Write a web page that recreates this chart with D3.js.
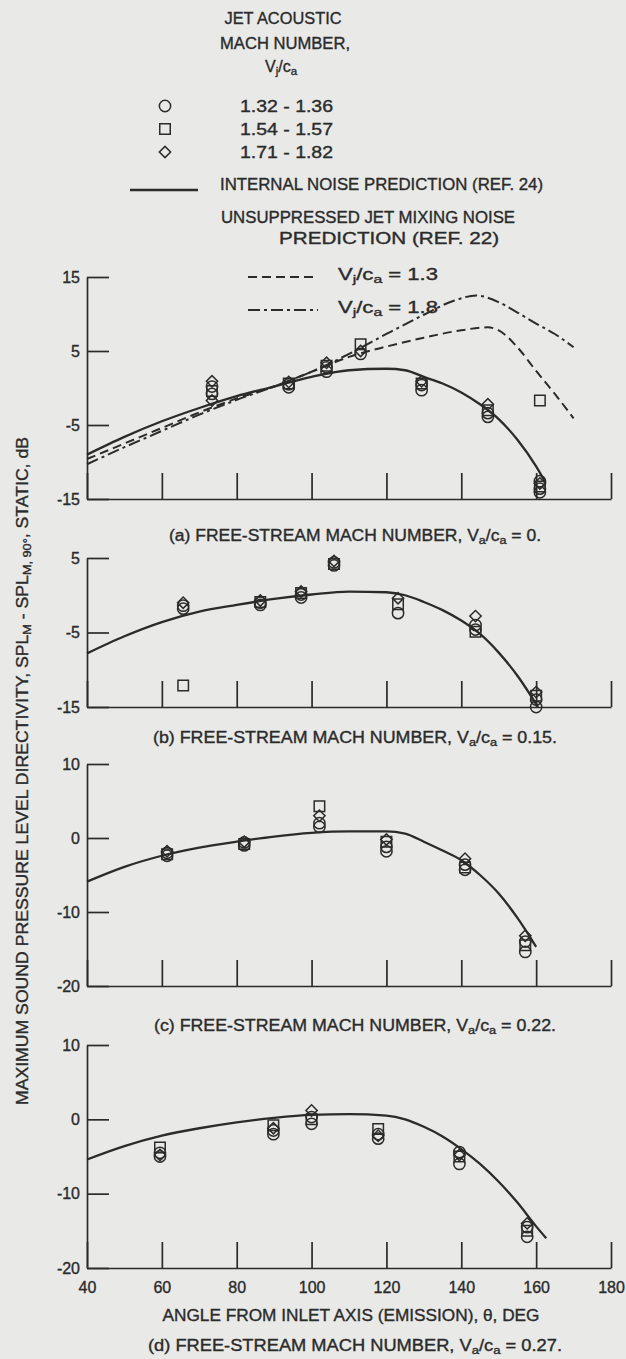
<!DOCTYPE html>
<html><head><meta charset="utf-8">
<script src="https://cdn.jsdelivr.net/npm/d3@7"></script>
<style>
html,body{margin:0;padding:0;background:#e9e9e7;}
svg{display:block;}
text{font-family:"Liberation Sans", Arial, sans-serif; fill:#2b2b2b; stroke:#2b2b2b; stroke-width:0.35px;}
</style></head><body>
<svg id="c" width="626" height="1359"></svg>
<script>
// ---------------- DATA ----------------
const xTicks = [40, 60, 80, 100, 120, 140, 160, 180];
const yTicksA = [15, 5, -5, -15];
const yTicksB = [5, -5, -15];
const yTicksC = [10, 0, -10, -20];
const yTicksD = [10, 0, -10, -20];
const legendRanges = ["1.32 - 1.36", "1.54 - 1.57", "1.71 - 1.82"];
const captionValues = ["0.", "0.15.", "0.22.", "0.27."];
const captionLetters = ["(a)", "(b)", "(c)", "(d)"];

// [angle deg, dB]
const aCircles = [[73.4,0.2],[73.4,-0.8],[93.9,0.5],[93.9,0.1],[104,2.2],[104,2.8],[113.1,4.6],[129.4,0.4],[129.4,-0.3],[147.1,-3.4],[147.1,-3.9],[161,-12.6],[161,-13.6],[161,-14.1]];
const aSquares = [[73.4,-0.4],[93.9,0.6],[104,3.0],[113.1,5.9],[129.4,0.6],[147.1,-3.0],[161,-1.7],[161,-13.3]];
const aDiamonds = [[73.4,0.9],[73.4,-1.7],[93.9,0.8],[104,3.4],[113.1,5.0],[129.4,0.9],[147.1,-2.2],[161,-12.9]];
const aInternal = [[40,-9.0],[50,-6.6],[60,-4.5],[70,-2.7],[80,-1.1],[90,0.2],[100,1.5],[110,2.4],[120,2.6],[125,2.4],[130,1.5],[135,0.6],[140,-0.6],[145,-2.2],[150,-4.2],[155,-7.0],[160,-10.6],[162.5,-12.8]];
const aJet13 = [[40,-9.6],[50,-7.5],[60,-5.4],[70,-3.3],[80,-1.4],[90,0.2],[100,2.2],[110,4.2],[120,5.6],[130,6.8],[140,7.8],[147,8.2],[150,7.8],[155,5.5],[160,2.3],[165,-0.8],[170,-4.1]];
const aJet18 = [[40,-10.3],[50,-8.0],[60,-5.8],[70,-3.6],[80,-1.6],[90,0.2],[100,2.2],[110,4.6],[120,7.3],[130,9.9],[138,11.8],[144,12.5],[150,11.6],[155,10.2],[160,8.7],[165,7.3],[170,5.5]];

const bCircles = [[65.7,-1.4],[65.7,-1.8],[86.3,-1.0],[86.3,-1.3],[97.2,-0.3],[97.2,0.1],[106,4.0],[106,4.4],[123.1,-2.4],[143.8,-4.0],[143.8,-4.6],[160,-14.0],[160,-15.0]];
const bSquares = [[65.7,-12.1],[86.3,-0.9],[97.2,0.3],[106,4.2],[123.1,-1.2],[143.8,-4.9],[160,-13.5]];
const bDiamonds = [[65.7,-1.0],[86.3,-0.7],[97.2,0.5],[106,4.6],[123.1,-0.4],[143.8,-2.8],[160,-13.0]];
const bInternal = [[40,-7.8],[50,-5.5],[60,-3.6],[70,-2.2],[80,-1.3],[90,-0.5],[100,0.1],[110,0.5],[120,0.4],[125,0.0],[130,-0.9],[135,-2.0],[140,-3.4],[145,-5.2],[150,-7.7],[155,-10.8],[160.5,-15.0]];

const cCircles = [[61.4,-2.0],[61.4,-2.4],[82,-0.6],[82,-1.0],[102.1,2.0],[102.1,1.5],[120,-1.2],[120,-1.8],[141,-3.6],[141,-4.3],[157.1,-14.0],[157.1,-15.4]];
const cSquares = [[61.4,-2.2],[82,-0.8],[102.1,4.3],[120,-0.5],[141,-4.0],[157.1,-14.5]];
const cDiamonds = [[61.4,-1.8],[82,-0.5],[102.1,3.0],[120,-0.2],[141,-2.8],[157.1,-13.2]];
const cInternal = [[40,-5.9],[50,-3.9],[60,-2.4],[70,-1.3],[80,-0.5],[90,0.2],[100,0.7],[110,0.9],[120,0.9],[125,0.6],[130,-0.5],[135,-1.7],[140,-3.0],[145,-5.0],[150,-7.5],[155,-10.8],[160,-14.7]];

const dCircles = [[59.5,-4.5],[59.5,-5.0],[89.8,-1.5],[89.8,-2.0],[100,0.3],[100,-0.6],[117.8,-2.0],[117.8,-2.6],[139.5,-4.4],[139.5,-6.0],[157.6,-14.5],[157.6,-15.8]];
const dSquares = [[59.5,-3.8],[89.8,-0.8],[100,0.0],[117.8,-1.3],[139.5,-5.0],[157.6,-15.0]];
const dDiamonds = [[59.5,-4.8],[89.8,-1.2],[100,1.2],[117.8,-2.2],[139.5,-4.8],[157.6,-14.0]];
const dInternal = [[40,-5.4],[50,-3.6],[60,-2.2],[70,-1.2],[80,-0.4],[90,0.2],[100,0.6],[110,0.7],[120,0.5],[125,0.0],[130,-1.0],[135,-2.3],[140,-4.0],[145,-6.0],[150,-8.4],[155,-11.2],[160,-14.4],[162.7,-16.0]];

// ---------------- DRAW ----------------
const INK = "#2b2b2b";
const FS = 16;
const svg = d3.select("#c");
const x = d3.scaleLinear().domain([40, 180]).range([87, 611]);

// parts: [text, mode]; mode "sub"/"sup" shifts that piece, the next piece shifts back
function rich(sel, parts, fs) {
  let back = 0;
  parts.forEach(p => {
    const t = sel.append("tspan").text(p[0]);
    let dy = back;
    back = 0;
    if (p[1] === "sub") { t.attr("font-size", fs * 0.72); dy += fs * 0.3; back = -fs * 0.3; }
    else if (p[1] === "sup") { t.attr("font-size", fs * 0.6); dy -= fs * 0.4; back = fs * 0.4; }
    if (dy !== 0) t.attr("dy", dy);
  });
  return sel;
}
function addText(x0, y0, parts, opts) {
  const fs = opts.fs || FS;
  const t = svg.append("text").attr("x", x0).attr("y", y0)
    .attr("font-size", fs).attr("dominant-baseline", "central")
    .attr("text-anchor", opts.anchor || "start");
  if (opts.len) t.attr("textLength", opts.len).attr("lengthAdjust", "spacingAndGlyphs");
  if (opts.rotate) t.attr("transform", `rotate(-90 ${x0} ${y0})`);
  rich(t, parts, fs);
  return t;
}

const circleSym = d3.symbol().type(d3.symbolCircle).size(100);
const squareSym = d3.symbol().type(d3.symbolSquare).size(110);
const diamondSym = d3.symbol().type(d3.symbolSquare).size(64);
function markerAttrs(sel, kind) {
  sel.attr("d", kind === "circle" ? circleSym() : kind === "square" ? squareSym() : diamondSym())
    .attr("fill", "none").attr("stroke", INK).attr("stroke-width", 1.5);
}
function drawMarkers(g, data, kind, y) {
  g.selectAll(null).data(data).enter().append("path")
    .call(markerAttrs, kind)
    .attr("transform", d => `translate(${x(d[0])},${y(d[1])})` + (kind === "diamond" ? " rotate(45)" : ""));
}

const dashStyles = { solid: null, dash: "9,5", dashdot: "12,4,3,4" };
function drawCurve(g, data, y, style, w) {
  const line = d3.line().x(d => x(d[0])).y(d => y(d[1])).curve(d3.curveMonotoneX);
  g.append("path").attr("d", line(data)).attr("fill", "none").attr("stroke", INK)
    .attr("stroke-width", w).attr("stroke-dasharray", dashStyles[style]);
}

const panels = [
  { domain: [-15, 15], range: [499, 277], ticks: yTicksA, capY: 535, capLen: 372,
    circles: aCircles, squares: aSquares, diamonds: aDiamonds, internal: aInternal, jet: [aJet13, aJet18] },
  { domain: [-15, 5], range: [707, 558], ticks: yTicksB, capY: 737, capLen: 404,
    circles: bCircles, squares: bSquares, diamonds: bDiamonds, internal: bInternal },
  { domain: [-20, 10], range: [986, 764], ticks: yTicksC, capY: 1025, capLen: 402,
    circles: cCircles, squares: cSquares, diamonds: cDiamonds, internal: cInternal },
  { domain: [-20, 10], range: [1268, 1045], ticks: yTicksD, capY: 1345, capLen: 414,
    circles: dCircles, squares: dSquares, diamonds: dDiamonds, internal: dInternal, xLabels: true }
];

panels.forEach((p, i) => {
  const y = d3.scaleLinear().domain(p.domain).range(p.range);
  const g = svg.append("g");
  const ya = g.append("g").attr("transform", `translate(${x(40)},0)`)
    .call(d3.axisLeft(y).tickValues(p.ticks).tickSizeInner(-22).tickSizeOuter(0).tickPadding(7).tickFormat(d => String(d)));
  const xa = g.append("g").attr("transform", `translate(0,${p.range[0]})`)
    .call(d3.axisBottom(x).tickValues(xTicks).tickSizeInner(-26).tickSizeOuter(0).tickPadding(14)
      .tickFormat(p.xLabels ? (d => String(d)) : (() => "")));
  [ya, xa].forEach(a => {
    a.selectAll("path,line").attr("stroke", INK).attr("stroke-width", 1.7);
    a.selectAll("text").attr("font-size", FS).attr("fill", INK).attr("font-family", '"Liberation Sans", Arial, sans-serif');
  });
  if (!p.xLabels) xa.selectAll("text").remove();
  drawCurve(g, p.internal, y, "solid", 2.3);
  if (p.jet) {
    drawCurve(g, p.jet[0], y, "dash", 2);
    drawCurve(g, p.jet[1], y, "dashdot", 2);
  }
  drawMarkers(g, p.circles, "circle", y);
  drawMarkers(g, p.squares, "square", y);
  drawMarkers(g, p.diamonds, "diamond", y);

  addText(355, p.capY, [[captionLetters[i] + " FREE-STREAM MACH NUMBER, V"], ["a", "sub"], ["/c"], ["a", "sub"], [" = " + captionValues[i]]],
    { anchor: "middle", len: p.capLen });
});

// x axis title
addText(351, 1315, [["ANGLE FROM INLET AXIS (EMISSION), \u03B8, DEG"]], { anchor: "middle", len: 377 });
// y axis title
addText(22, 771, [["MAXIMUM SOUND PRESSURE LEVEL DIRECTIVITY, SPL"], ["M", "sub"], [" - SPL"], ["M, 90\u00B0", "sub"], [", STATIC, dB"]],
  { anchor: "middle", rotate: true, len: 668 });

// ---------------- LEGEND ----------------
addText(283, 18, [["JET ACOUSTIC"]], { anchor: "middle", len: 117 });
addText(285, 43, [["MACH NUMBER,"]], { anchor: "middle", len: 130 });
addText(281, 66, [["V"], ["j", "sub"], ["/c"], ["a", "sub"]], { anchor: "middle" });

const kinds = ["circle", "square", "diamond"];
const legRowY = [106, 129, 152];
kinds.forEach((k, i) => {
  svg.append("path").call(markerAttrs, k)
    .attr("transform", `translate(165,${legRowY[i]})` + (k === "diamond" ? " rotate(45)" : ""));
  addText(240, legRowY[i], [[legendRanges[i]]], { len: 93 });
});

function legLine(x1, x2, yy, style) {
  svg.append("line").attr("x1", x1).attr("x2", x2).attr("y1", yy).attr("y2", yy)
    .attr("stroke", INK).attr("stroke-width", style === "solid" ? 2.5 : 2).attr("stroke-dasharray", dashStyles[style]);
}
legLine(130, 198, 190, "solid");
addText(220, 184, [["INTERNAL NOISE PREDICTION (REF. 24)"]], { len: 323 });
addText(368, 217, [["UNSUPPRESSED JET MIXING NOISE"]], { anchor: "middle", len: 294 });
addText(389, 238, [["PREDICTION (REF. 22)"]], { anchor: "middle", len: 220 });
legLine(248, 318, 277, "dash");
addText(338, 274, [["V"], ["j", "sub"], ["/c"], ["a", "sub"], [" = 1.3"]], { len: 100 });
legLine(248, 318, 310, "dashdot");
addText(338, 307, [["V"], ["j", "sub"], ["/c"], ["a", "sub"], [" = 1.8"]], { len: 100 });
</script>
</body></html>
